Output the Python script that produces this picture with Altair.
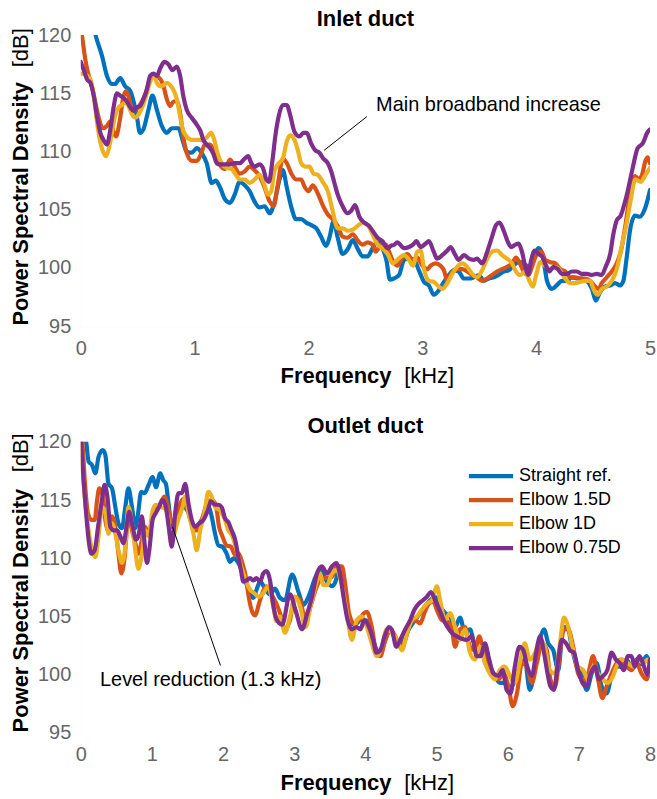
import altair as alt
import pandas as pd

# ---------------------------------------------------------------------------
# Series names and MATLAB-style line colours
# ---------------------------------------------------------------------------
series_names = ["Straight ref.", "Elbow 1.5D", "Elbow 1D", "Elbow 0.75D"]
series_colors = ["#0072BD", "#D95319", "#EDB120", "#7E2F8E"]

panel_titles = ["Inlet duct", "Outlet duct"]
x_label = ["Frequency", "[kHz]"]
y_label = ["Power Spectral Density", "[dB]"]
x_ticks_inlet = [0, 1, 2, 3, 4, 5]
x_ticks_outlet = [0, 1, 2, 3, 4, 5, 6, 7, 8]
y_ticks = [95, 100, 105, 110, 115, 120]

# ---------------------------------------------------------------------------
# Inlet duct spectra (frequency in kHz, PSD in dB)
# ---------------------------------------------------------------------------
inlet_f_straight = [0.0, 0.05, 0.10, 0.13, 0.187, 0.23, 0.274, 0.30, 0.347, 0.39, 0.435, 0.464, 0.493, 0.52, 0.55, 0.595, 0.63, 0.668, 0.712, 0.756, 0.80, 0.858, 0.90, 0.93, 0.975, 1.02, 1.06, 1.106, 1.15, 1.185, 1.22, 1.267, 1.31, 1.352, 1.396, 1.44, 1.483, 1.527, 1.57, 1.615, 1.66, 1.70, 1.746, 1.775, 1.81, 1.85, 1.89, 1.936, 1.98, 2.02, 2.07, 2.11, 2.155, 2.184, 2.22, 2.257, 2.30, 2.344, 2.39, 2.43, 2.476, 2.52, 2.563, 2.607, 2.65, 2.686, 2.715, 2.75, 2.796, 2.84, 2.883, 2.927, 2.97, 3.015, 3.058, 3.10, 3.146, 3.19, 3.233, 3.277, 3.32, 3.365, 3.41, 3.452, 3.496, 3.54, 3.584, 3.628, 3.67, 3.715, 3.759, 3.80, 3.846, 3.89, 3.934, 3.978, 4.02, 4.057, 4.095, 4.138, 4.18, 4.226, 4.27, 4.313, 4.357, 4.40, 4.445, 4.49, 4.524, 4.56, 4.605, 4.65, 4.693, 4.737, 4.766, 4.795, 4.824, 4.868, 4.91, 4.956, 5.0]
inlet_db_straight = [124.5, 123.0, 121.3, 120.0, 118.2, 116.5, 115.8, 115.8, 116.3, 115.6, 115.2, 114.3, 113.0, 111.6, 111.9, 113.6, 114.8, 113.6, 112.2, 111.6, 112.0, 112.0, 110.8, 110.0, 109.9, 110.3, 109.9, 109.0, 107.3, 107.5, 107.0, 105.9, 105.6, 106.3, 107.4, 107.1, 106.6, 105.7, 105.2, 105.3, 104.7, 105.6, 107.6, 108.4, 106.9, 105.2, 104.2, 104.2, 103.9, 103.7, 103.4, 102.7, 101.9, 102.6, 104.0, 102.6, 101.2, 101.6, 102.4, 101.7, 101.0, 101.0, 101.7, 102.2, 101.7, 100.6, 99.0, 99.1, 99.4, 100.7, 100.8, 100.7, 99.8, 98.8, 98.5, 97.7, 98.1, 98.8, 99.4, 99.8, 99.7, 99.1, 99.1, 99.2, 99.4, 98.9, 99.1, 99.2, 99.4, 99.7, 99.8, 100.2, 100.5, 100.4, 100.1, 100.9, 101.7, 101.1, 98.9, 98.2, 98.5, 98.9, 98.9, 99.2, 99.1, 99.1, 98.9, 98.2, 97.2, 97.9, 98.4, 98.5, 98.7, 98.5, 98.9, 100.9, 103.2, 104.5, 104.4, 105.1, 106.7]

inlet_f_elbow15 = [0.0, 0.01, 0.04, 0.07, 0.10, 0.128, 0.158, 0.193, 0.23, 0.26, 0.29, 0.31, 0.34, 0.377, 0.40, 0.426, 0.455, 0.485, 0.52, 0.566, 0.61, 0.654, 0.70, 0.727, 0.756, 0.785, 0.814, 0.844, 0.873, 0.90, 0.93, 0.975, 1.02, 1.057, 1.09, 1.135, 1.18, 1.22, 1.267, 1.31, 1.352, 1.396, 1.44, 1.483, 1.527, 1.57, 1.615, 1.66, 1.694, 1.73, 1.775, 1.81, 1.85, 1.89, 1.936, 1.965, 2.0, 2.038, 2.082, 2.125, 2.17, 2.213, 2.257, 2.30, 2.344, 2.39, 2.43, 2.476, 2.52, 2.563, 2.59, 2.636, 2.68, 2.708, 2.737, 2.78, 2.825, 2.87, 2.912, 2.956, 3.0, 3.044, 3.073, 3.117, 3.16, 3.19, 3.22, 3.263, 3.306, 3.35, 3.394, 3.438, 3.48, 3.525, 3.57, 3.613, 3.657, 3.70, 3.744, 3.788, 3.823, 3.852, 3.89, 3.934, 3.963, 4.007, 4.045, 4.08, 4.124, 4.168, 4.21, 4.255, 4.3, 4.343, 4.386, 4.43, 4.474, 4.518, 4.547, 4.576, 4.62, 4.664, 4.708, 4.75, 4.786, 4.815, 4.845, 4.87, 4.90, 4.93, 4.96, 4.98, 5.0]
inlet_db_elbow15 = [120.6, 120.0, 117.9, 116.5, 115.5, 114.2, 112.9, 112.0, 112.2, 112.6, 111.6, 111.3, 112.5, 114.8, 115.2, 114.5, 113.5, 113.6, 114.0, 114.9, 116.2, 116.5, 116.2, 115.6, 114.5, 113.9, 114.3, 114.3, 113.3, 111.3, 109.9, 109.2, 109.2, 109.8, 110.6, 110.6, 109.8, 108.9, 108.5, 109.3, 108.7, 108.1, 108.3, 108.7, 108.4, 107.9, 106.9, 105.7, 105.3, 107.1, 109.4, 109.0, 108.1, 107.6, 107.6, 107.0, 106.6, 107.1, 106.4, 105.4, 104.6, 104.2, 103.6, 102.7, 102.6, 102.9, 102.4, 102.0, 102.2, 102.0, 101.4, 102.0, 102.0, 101.4, 100.7, 100.2, 100.9, 101.2, 100.7, 100.9, 100.2, 99.9, 100.2, 100.4, 100.2, 99.8, 98.9, 99.7, 99.9, 99.9, 99.7, 99.4, 99.2, 98.9, 99.1, 99.4, 99.7, 99.9, 100.1, 100.4, 100.9, 100.5, 99.7, 99.4, 100.1, 101.2, 101.4, 100.7, 100.5, 100.4, 99.9, 99.7, 99.2, 99.2, 99.1, 99.1, 98.9, 98.4, 98.2, 98.7, 99.2, 99.7, 100.4, 101.7, 103.8, 105.8, 107.5, 107.9, 107.6, 108.0, 109.2, 109.5, 109.0]

inlet_f_elbow1 = [0.0, 0.04, 0.085, 0.114, 0.143, 0.172, 0.20, 0.222, 0.245, 0.274, 0.30, 0.333, 0.362, 0.39, 0.42, 0.45, 0.48, 0.508, 0.543, 0.58, 0.61, 0.64, 0.668, 0.70, 0.727, 0.756, 0.785, 0.814, 0.844, 0.873, 0.90, 0.93, 0.975, 1.02, 1.06, 1.106, 1.144, 1.173, 1.2, 1.238, 1.28, 1.325, 1.37, 1.396, 1.44, 1.483, 1.527, 1.57, 1.615, 1.644, 1.673, 1.70, 1.74, 1.775, 1.81, 1.84, 1.877, 1.907, 1.936, 1.974, 2.01, 2.044, 2.082, 2.125, 2.17, 2.213, 2.257, 2.30, 2.344, 2.39, 2.43, 2.476, 2.52, 2.563, 2.607, 2.65, 2.695, 2.74, 2.78, 2.84, 2.883, 2.918, 2.956, 2.985, 3.015, 3.058, 3.10, 3.146, 3.175, 3.22, 3.263, 3.306, 3.35, 3.394, 3.438, 3.48, 3.525, 3.57, 3.613, 3.657, 3.70, 3.744, 3.788, 3.823, 3.86, 3.905, 3.94, 3.97, 4.0, 4.036, 4.08, 4.124, 4.168, 4.21, 4.255, 4.3, 4.343, 4.386, 4.43, 4.474, 4.503, 4.538, 4.576, 4.62, 4.664, 4.708, 4.75, 4.79, 4.83, 4.87, 4.92, 4.96, 5.0]
inlet_db_elbow1 = [116.7, 116.6, 116.2, 114.8, 112.5, 110.8, 109.9, 109.6, 110.2, 111.6, 113.0, 113.8, 114.0, 114.2, 113.9, 113.2, 112.9, 113.2, 113.9, 115.0, 116.0, 116.6, 115.9, 115.6, 115.7, 115.9, 115.7, 115.3, 114.5, 113.0, 111.8, 111.3, 111.0, 111.0, 111.0, 111.2, 111.6, 111.0, 109.9, 109.0, 108.6, 108.5, 107.9, 107.6, 107.6, 107.3, 107.6, 108.0, 107.1, 106.3, 106.6, 108.3, 109.0, 109.4, 110.9, 111.4, 111.0, 110.1, 109.0, 108.7, 108.7, 108.1, 108.0, 107.4, 106.6, 104.9, 103.4, 103.4, 103.2, 103.3, 103.6, 103.9, 103.7, 102.9, 102.0, 101.7, 101.2, 100.4, 100.7, 101.1, 100.7, 100.2, 101.4, 101.5, 99.9, 98.9, 98.8, 98.4, 98.2, 98.7, 99.5, 100.1, 100.4, 100.1, 99.5, 99.2, 99.8, 100.8, 101.4, 101.5, 101.1, 100.8, 100.4, 99.7, 99.4, 99.7, 98.9, 98.4, 99.4, 100.5, 100.2, 99.9, 100.1, 99.8, 99.1, 98.7, 98.7, 98.8, 98.9, 98.9, 98.2, 97.7, 98.2, 98.4, 98.9, 99.9, 101.8, 103.6, 105.8, 107.6, 107.4, 108.0, 108.6]

inlet_f_elbow075 = [0.0, 0.026, 0.055, 0.085, 0.114, 0.143, 0.172, 0.20, 0.23, 0.26, 0.29, 0.318, 0.347, 0.377, 0.405, 0.435, 0.464, 0.493, 0.52, 0.55, 0.58, 0.61, 0.64, 0.668, 0.70, 0.736, 0.77, 0.806, 0.844, 0.873, 0.90, 0.93, 0.975, 1.02, 1.05, 1.077, 1.106, 1.135, 1.165, 1.194, 1.223, 1.267, 1.31, 1.352, 1.396, 1.44, 1.47, 1.498, 1.527, 1.57, 1.6, 1.63, 1.653, 1.682, 1.71, 1.74, 1.775, 1.81, 1.84, 1.877, 1.92, 1.956, 1.985, 2.023, 2.06, 2.096, 2.13, 2.17, 2.2, 2.228, 2.257, 2.30, 2.344, 2.374, 2.41, 2.447, 2.49, 2.534, 2.563, 2.607, 2.65, 2.695, 2.724, 2.753, 2.78, 2.84, 2.883, 2.918, 2.947, 2.985, 3.03, 3.058, 3.10, 3.13, 3.175, 3.22, 3.248, 3.29, 3.32, 3.365, 3.41, 3.452, 3.48, 3.525, 3.57, 3.613, 3.648, 3.678, 3.715, 3.753, 3.78, 3.817, 3.846, 3.875, 3.905, 3.928, 3.957, 3.987, 4.02, 4.057, 4.086, 4.115, 4.153, 4.19, 4.226, 4.27, 4.313, 4.357, 4.40, 4.445, 4.49, 4.532, 4.576, 4.61, 4.65, 4.678, 4.708, 4.743, 4.775, 4.804, 4.848, 4.892, 4.936, 4.98, 5.0]
inlet_db_elbow075 = [117.7, 117.0, 116.2, 115.9, 114.8, 113.0, 111.6, 111.0, 110.6, 111.9, 113.9, 115.0, 114.8, 114.6, 114.3, 113.8, 113.5, 113.8, 113.9, 114.5, 115.3, 116.5, 116.7, 116.5, 117.2, 117.7, 117.5, 117.0, 117.3, 116.5, 114.8, 113.6, 112.9, 112.3, 111.8, 111.0, 110.6, 110.3, 109.8, 109.0, 108.9, 108.9, 108.9, 109.0, 109.0, 109.4, 109.6, 109.0, 108.7, 108.9, 108.6, 107.6, 107.4, 109.1, 111.4, 113.1, 114.0, 114.0, 113.1, 111.7, 111.3, 111.6, 111.6, 110.7, 110.1, 109.9, 109.4, 109.0, 108.3, 107.3, 106.3, 105.3, 104.7, 104.9, 105.4, 104.4, 103.9, 103.6, 103.2, 102.6, 102.3, 101.7, 101.9, 102.0, 102.2, 101.7, 101.8, 102.0, 102.3, 101.8, 102.1, 102.3, 101.4, 100.8, 101.1, 101.5, 101.8, 101.1, 100.7, 101.1, 100.8, 100.7, 100.8, 100.4, 101.4, 102.7, 103.7, 103.9, 103.2, 102.2, 101.8, 102.0, 102.1, 101.4, 100.1, 99.4, 100.7, 101.5, 101.2, 100.9, 100.2, 99.7, 100.1, 99.9, 99.5, 99.5, 99.7, 99.7, 99.5, 99.5, 99.4, 99.5, 99.4, 100.1, 101.2, 102.9, 104.1, 104.5, 105.5, 106.6, 108.6, 110.3, 110.7, 111.7, 111.9]

# ---------------------------------------------------------------------------
# Outlet duct spectra (frequency in kHz, PSD in dB)
# ---------------------------------------------------------------------------
outlet_f_straight = [0.0, 0.05, 0.075, 0.11, 0.16, 0.205, 0.25, 0.31, 0.345, 0.39, 0.44, 0.486, 0.53, 0.58, 0.626, 0.67, 0.72, 0.766, 0.80, 0.85, 0.897, 0.953, 1.01, 1.056, 1.117, 1.16, 1.196, 1.234, 1.28, 1.327, 1.374, 1.42, 1.467, 1.514, 1.56, 1.607, 1.678, 1.738, 1.794, 1.84, 1.888, 1.935, 1.99, 2.05, 2.098, 2.145, 2.215, 2.26, 2.31, 2.38, 2.425, 2.47, 2.52, 2.59, 2.66, 2.73, 2.80, 2.87, 2.97, 3.06, 3.13, 3.2, 3.3, 3.36, 3.46, 3.53, 3.58, 3.627, 3.673, 3.72, 3.79, 3.86, 3.93, 4.0, 4.07, 4.14, 4.21, 4.28, 4.35, 4.42, 4.49, 4.56, 4.63, 4.70, 4.77, 4.84, 4.91, 4.98, 5.05, 5.12, 5.19, 5.26, 5.33, 5.40, 5.47, 5.54, 5.61, 5.68, 5.75, 5.82, 5.89, 5.96, 6.03, 6.10, 6.17, 6.24, 6.31, 6.385, 6.45, 6.51, 6.57, 6.64, 6.71, 6.78, 6.84, 6.90, 6.97, 7.04, 7.11, 7.18, 7.25, 7.32, 7.39, 7.46, 7.53, 7.6, 7.67, 7.74, 7.81, 7.88, 7.95, 8.0]
outlet_db_straight = [121.5, 120.3, 120.0, 118.3, 118.0, 117.3, 118.7, 119.3, 118.9, 116.4, 116.0, 114.4, 113.0, 112.6, 114.4, 116.0, 114.4, 112.6, 113.6, 115.7, 115.6, 116.3, 117.0, 116.1, 117.3, 116.7, 116.4, 114.7, 112.7, 113.3, 114.1, 114.9, 114.4, 113.9, 113.0, 112.4, 113.1, 113.7, 114.4, 113.6, 112.1, 111.1, 111.0, 110.4, 109.7, 110.0, 109.6, 109.0, 108.1, 107.0, 106.6, 107.3, 108.0, 107.4, 106.9, 107.4, 106.6, 106.4, 108.6, 107.1, 106.0, 106.7, 108.4, 109.0, 108.0, 107.6, 108.0, 109.0, 108.1, 106.4, 104.4, 104.3, 104.7, 104.7, 103.9, 102.4, 101.9, 103.0, 103.9, 103.0, 102.4, 103.3, 104.1, 104.7, 105.3, 105.9, 106.4, 106.7, 105.9, 105.3, 105.0, 104.1, 104.9, 103.6, 103.9, 102.4, 101.9, 102.4, 100.7, 99.9, 99.3, 99.3, 98.7, 99.6, 100.7, 101.3, 98.7, 100.7, 103.0, 103.9, 102.7, 102.1, 100.4, 104.1, 104.1, 102.4, 100.7, 100.1, 98.7, 100.1, 101.0, 99.0, 98.4, 99.9, 100.7, 100.7, 101.3, 100.7, 101.3, 100.9, 101.6, 101.0]

outlet_f_elbow15 = [0.0, 0.02, 0.056, 0.10, 0.15, 0.196, 0.23, 0.26, 0.31, 0.345, 0.39, 0.44, 0.486, 0.53, 0.57, 0.617, 0.67, 0.72, 0.766, 0.81, 0.86, 0.906, 0.953, 1.01, 1.056, 1.117, 1.178, 1.224, 1.28, 1.336, 1.383, 1.444, 1.49, 1.537, 1.584, 1.645, 1.70, 1.77, 1.84, 1.897, 1.944, 1.99, 2.05, 2.11, 2.17, 2.22, 2.27, 2.32, 2.36, 2.41, 2.45, 2.505, 2.55, 2.61, 2.68, 2.75, 2.80, 2.87, 2.94, 3.01, 3.08, 3.16, 3.23, 3.30, 3.36, 3.43, 3.53, 3.60, 3.67, 3.72, 3.77, 3.84, 3.91, 3.98, 4.02, 4.09, 4.155, 4.21, 4.28, 4.35, 4.42, 4.49, 4.56, 4.63, 4.70, 4.77, 4.83, 4.89, 4.95, 5.015, 5.075, 5.145, 5.215, 5.26, 5.33, 5.40, 5.47, 5.54, 5.60, 5.66, 5.73, 5.80, 5.87, 5.94, 6.01, 6.07, 6.13, 6.20, 6.27, 6.34, 6.41, 6.48, 6.55, 6.60, 6.665, 6.735, 6.79, 6.85, 6.92, 6.99, 7.06, 7.13, 7.2, 7.27, 7.33, 7.39, 7.46, 7.53, 7.6, 7.67, 7.74, 7.81, 7.88, 7.95, 8.0]
outlet_db_elbow15 = [120.2, 120.0, 116.7, 113.9, 113.3, 113.3, 115.0, 116.0, 115.4, 113.3, 112.3, 113.6, 112.7, 110.4, 108.7, 110.1, 113.6, 112.4, 111.3, 110.4, 111.6, 112.7, 111.9, 113.6, 114.1, 114.7, 115.3, 114.4, 113.1, 113.4, 114.4, 115.1, 114.9, 113.4, 112.7, 112.4, 113.3, 114.6, 115.0, 114.6, 112.7, 111.9, 111.1, 111.0, 110.3, 110.4, 109.6, 108.4, 106.7, 105.4, 105.1, 106.1, 107.0, 107.6, 106.9, 106.1, 105.3, 103.9, 104.7, 106.7, 106.4, 104.7, 105.9, 107.3, 108.1, 108.3, 108.4, 109.3, 109.3, 107.6, 105.3, 104.4, 104.7, 105.3, 105.4, 104.1, 101.9, 101.6, 103.0, 103.9, 103.3, 102.4, 103.0, 104.4, 104.7, 104.4, 105.3, 106.1, 106.3, 105.4, 104.7, 104.6, 103.9, 102.4, 103.9, 104.1, 102.4, 102.1, 103.3, 101.9, 101.0, 100.1, 99.6, 100.1, 99.0, 97.3, 98.4, 101.0, 100.7, 99.3, 101.0, 102.7, 102.1, 99.6, 99.0, 101.9, 103.9, 103.9, 102.4, 100.1, 99.6, 100.1, 101.6, 99.6, 98.0, 99.0, 100.1, 101.0, 101.3, 100.7, 100.4, 101.0, 100.1, 99.6, 100.7]

outlet_f_elbow1 = [0.0, 0.02, 0.065, 0.11, 0.16, 0.205, 0.25, 0.30, 0.345, 0.39, 0.44, 0.486, 0.53, 0.58, 0.626, 0.67, 0.72, 0.766, 0.81, 0.86, 0.906, 0.953, 1.01, 1.056, 1.117, 1.178, 1.224, 1.27, 1.327, 1.374, 1.43, 1.467, 1.514, 1.584, 1.63, 1.678, 1.738, 1.794, 1.84, 1.888, 1.958, 2.02, 2.075, 2.13, 2.19, 2.24, 2.285, 2.33, 2.38, 2.44, 2.495, 2.565, 2.635, 2.705, 2.75, 2.80, 2.87, 2.94, 3.01, 3.08, 3.16, 3.23, 3.30, 3.36, 3.41, 3.46, 3.53, 3.60, 3.67, 3.74, 3.81, 3.88, 3.95, 4.02, 4.09, 4.16, 4.23, 4.30, 4.375, 4.445, 4.515, 4.585, 4.655, 4.725, 4.795, 4.865, 4.935, 5.005, 5.05, 5.12, 5.19, 5.26, 5.33, 5.40, 5.47, 5.54, 5.61, 5.68, 5.75, 5.82, 5.89, 5.96, 6.03, 6.10, 6.17, 6.24, 6.31, 6.385, 6.45, 6.52, 6.59, 6.665, 6.735, 6.79, 6.85, 6.92, 6.99, 7.06, 7.13, 7.2, 7.27, 7.34, 7.41, 7.48, 7.55, 7.62, 7.69, 7.76, 7.83, 7.90, 7.97, 8.0]
outlet_db_elbow1 = [120.0, 118.1, 114.7, 112.4, 110.7, 110.1, 111.9, 114.4, 113.9, 112.1, 113.0, 112.1, 110.7, 109.6, 111.0, 114.4, 113.0, 110.7, 109.1, 110.4, 112.4, 111.9, 114.1, 114.6, 114.4, 114.3, 113.6, 111.3, 112.4, 113.4, 114.4, 115.3, 113.9, 112.1, 110.7, 112.4, 113.9, 115.7, 115.3, 114.4, 114.1, 113.4, 112.4, 111.9, 110.7, 109.6, 108.7, 107.9, 107.3, 107.0, 106.7, 107.0, 107.6, 105.9, 104.6, 105.0, 103.6, 105.0, 106.7, 105.9, 104.1, 105.9, 107.6, 108.7, 107.7, 107.7, 108.7, 109.0, 107.6, 105.3, 103.0, 104.7, 105.0, 104.1, 102.7, 101.6, 102.4, 103.9, 103.6, 103.0, 102.1, 103.6, 104.7, 105.0, 105.6, 106.1, 106.4, 107.6, 106.4, 104.7, 105.3, 104.1, 103.0, 103.9, 101.9, 101.3, 102.4, 101.0, 100.1, 99.6, 100.4, 100.7, 99.9, 99.3, 101.0, 102.7, 101.3, 101.9, 103.0, 102.4, 100.4, 100.1, 102.7, 104.9, 104.1, 102.1, 100.7, 100.4, 99.6, 100.7, 100.1, 99.6, 99.3, 99.9, 101.0, 101.3, 101.0, 100.7, 101.3, 101.0, 101.3, 100.1]

outlet_f_elbow075 = [0.0, 0.04, 0.075, 0.11, 0.15, 0.196, 0.243, 0.29, 0.336, 0.374, 0.416, 0.463, 0.51, 0.556, 0.60, 0.65, 0.68, 0.73, 0.776, 0.81, 0.86, 0.897, 0.93, 0.963, 1.01, 1.056, 1.10, 1.15, 1.196, 1.243, 1.28, 1.327, 1.374, 1.42, 1.467, 1.514, 1.56, 1.607, 1.664, 1.724, 1.785, 1.83, 1.888, 1.935, 1.98, 2.03, 2.075, 2.12, 2.17, 2.215, 2.25, 2.285, 2.33, 2.38, 2.425, 2.47, 2.52, 2.565, 2.61, 2.66, 2.705, 2.75, 2.83, 2.94, 3.02, 3.11, 3.18, 3.25, 3.32, 3.39, 3.46, 3.53, 3.59, 3.65, 3.70, 3.75, 3.81, 3.875, 3.93, 3.985, 4.05, 4.11, 4.155, 4.21, 4.27, 4.33, 4.37, 4.435, 4.49, 4.56, 4.63, 4.69, 4.75, 4.81, 4.865, 4.92, 4.98, 5.04, 5.10, 5.155, 5.215, 5.285, 5.355, 5.425, 5.495, 5.565, 5.62, 5.68, 5.74, 5.80, 5.87, 5.93, 5.985, 6.04, 6.10, 6.165, 6.22, 6.275, 6.34, 6.40, 6.455, 6.51, 6.56, 6.60, 6.65, 6.71, 6.76, 6.82, 6.875, 6.93, 6.99, 7.05, 7.11, 7.165, 7.225, 7.285, 7.34, 7.40, 7.46, 7.52, 7.575, 7.63, 7.69, 7.74, 7.785, 7.85, 7.90, 7.96, 8.0]
outlet_db_elbow075 = [120.5, 116.7, 113.9, 111.6, 110.4, 110.7, 112.7, 114.7, 116.3, 115.3, 112.7, 112.4, 112.4, 111.9, 111.3, 113.0, 114.0, 112.7, 111.6, 111.9, 113.6, 111.3, 109.6, 110.7, 113.3, 113.9, 114.4, 115.0, 114.4, 112.4, 111.0, 113.9, 115.6, 115.6, 116.4, 114.7, 113.3, 112.7, 113.0, 113.3, 114.1, 114.9, 114.6, 114.6, 114.4, 113.4, 113.1, 112.4, 111.6, 110.1, 109.0, 108.0, 108.1, 108.3, 108.1, 108.3, 108.0, 108.7, 108.9, 108.1, 106.0, 104.8, 104.3, 106.9, 105.5, 103.9, 105.2, 106.7, 108.7, 109.3, 108.7, 109.3, 109.6, 108.4, 106.4, 104.7, 103.9, 104.1, 103.9, 104.7, 104.1, 103.0, 101.9, 102.1, 103.3, 104.1, 103.9, 102.4, 103.0, 103.9, 104.7, 105.6, 106.1, 106.4, 106.7, 107.1, 106.4, 105.6, 104.7, 104.1, 103.6, 103.3, 103.1, 103.0, 103.3, 101.6, 101.6, 102.7, 101.3, 100.1, 99.9, 100.4, 98.7, 98.4, 100.7, 102.4, 102.1, 100.7, 99.9, 101.9, 103.3, 101.9, 100.1, 99.0, 98.7, 101.3, 103.0, 102.7, 102.1, 101.9, 100.4, 99.3, 99.0, 100.1, 100.7, 99.6, 99.9, 100.4, 101.9, 101.3, 101.0, 100.4, 101.6, 101.6, 100.7, 101.6, 101.0, 100.0, 101.3]

# ---------------------------------------------------------------------------
# Annotations: label text, label anchor (kHz, dB) and pointer line (kHz, dB)
# ---------------------------------------------------------------------------
inlet_note = "Main broadband increase"
inlet_note_anchor = [2.594, 113.5]
inlet_note_line = [2.137, 110.1, 2.513, 113.0]

outlet_note = "Level reduction (1.3 kHz)"
outlet_note_anchor = [0.27, 99.06]
outlet_note_line = [1.29, 112.7, 1.963, 100.8]

# ---------------------------------------------------------------------------
# Layout constants (pixels)
# ---------------------------------------------------------------------------
W, H = 571, 292
FONT = "Liberation Sans"
BG = "#e5e5e5"
LABEL_GRAY = "#666666"
LINE_W = 4.2

color_scale = alt.Scale(domain=series_names, range=series_colors)


def spectra_layers(freqs, dbs, x_max, ticks):
    layers = []
    for name, f, db in zip(series_names, freqs, dbs):
        df = pd.DataFrame({"freq": f, "psd": db, "series": name})
        layers.append(
            alt.Chart(df)
            .mark_line(strokeWidth=LINE_W, clip=True, interpolate="monotone",
                       strokeJoin="round", strokeCap="round")
            .encode(
                x=alt.X("freq:Q",
                        scale=alt.Scale(domain=[0, x_max], nice=False, zero=False),
                        axis=alt.Axis(values=ticks, format="d", title=None,
                                      grid=True, gridColor="white", gridWidth=2,
                                      domain=False, ticks=False,
                                      labelFontSize=20, labelColor=LABEL_GRAY,
                                      labelFont=FONT, labelPadding=12,
                                      labelFlush=False, labelOverlap=False)),
                y=alt.Y("psd:Q",
                        scale=alt.Scale(domain=[95, 120], nice=False, zero=False),
                        axis=alt.Axis(values=y_ticks, title=None,
                                      grid=True, gridColor="white", gridWidth=2,
                                      domain=False, ticks=False,
                                      labelFontSize=20, labelColor=LABEL_GRAY,
                                      labelFont=FONT, labelPadding=10,
                                      labelOverlap=False)),
                color=alt.Color("series:N", scale=color_scale, legend=None),
            )
        )
    return layers


def text_at(label, x, y, size, weight="normal", align="center",
            baseline="alphabetic", angle=0):
    return (
        alt.Chart(pd.DataFrame({"label": [label]}))
        .mark_text(fontSize=size, fontWeight=weight, font=FONT, align=align,
                   baseline=baseline, angle=angle, color="black")
        .encode(x=alt.value(x), y=alt.value(y), text="label:N")
    )


def frame_labels(title, unit_offset_y):
    return [
        text_at(title, W / 2, -9.3, 22, weight="bold"),
        text_at(x_label[0], 256, 349, 22, weight="bold"),
        text_at(x_label[1], 349.5, 349, 22),
        text_at(y_label[0], -53.3, 169.2, 22, weight="bold", angle=270),
        text_at(y_label[1], -53.3, unit_offset_y, 22, angle=270),
    ]


def note_layers(text, anchor, line):
    line_df = pd.DataFrame({"f1": [line[0]], "d1": [line[1]],
                            "f2": [line[2]], "d2": [line[3]]})
    rule = alt.Chart(line_df).mark_rule(color="black", strokeWidth=1).encode(
        x="f1:Q", y="d1:Q", x2="f2:Q", y2="d2:Q")
    label_df = pd.DataFrame({"f": [anchor[0]], "d": [anchor[1]], "label": [text]})
    label = alt.Chart(label_df).mark_text(
        fontSize=20, font=FONT, align="left", baseline="alphabetic", color="black"
    ).encode(x="f:Q", y="d:Q", text="label:N")
    return [rule, label]


def legend_layers():
    layers = []
    row_y0, row_step = 34.3, 24.1
    for i, (name, color) in enumerate(zip(series_names, series_colors)):
        yy = row_y0 + i * row_step
        row = pd.DataFrame({"label": [name]})
        layers.append(
            alt.Chart(row).mark_rule(color=color, strokeWidth=LINE_W).encode(
                x=alt.value(389.3), x2=alt.value(433.7), y=alt.value(yy))
        )
        layers.append(
            alt.Chart(row).mark_text(fontSize=18, font=FONT, align="left",
                                     baseline="middle", color="black").encode(
                x=alt.value(439.7), y=alt.value(yy), text="label:N")
        )
    return layers


inlet = alt.layer(
    *spectra_layers(
        [inlet_f_straight, inlet_f_elbow15, inlet_f_elbow1, inlet_f_elbow075],
        [inlet_db_straight, inlet_db_elbow15, inlet_db_elbow1, inlet_db_elbow075],
        5, x_ticks_inlet),
    *note_layers(inlet_note, inlet_note_anchor, inlet_note_line),
    *frame_labels(panel_titles[0], 12.7),
).properties(width=W, height=H)

outlet = alt.layer(
    *spectra_layers(
        [outlet_f_straight, outlet_f_elbow15, outlet_f_elbow1, outlet_f_elbow075],
        [outlet_db_straight, outlet_db_elbow15, outlet_db_elbow1, outlet_db_elbow075],
        8, x_ticks_outlet),
    *note_layers(outlet_note, outlet_note_anchor, outlet_note_line),
    *legend_layers(),
    *frame_labels(panel_titles[1], 11.0),
).properties(width=W, height=H)

chart = (
    alt.vconcat(inlet, outlet, spacing=116, bounds="flush")
    .properties(padding={"left": 9, "top": 6, "right": 0, "bottom": 0})
    .configure_view(fill=BG, stroke=None)
    .configure(font=FONT)
)

chart.save("out.html", embed_options={"renderer": "svg", "actions": False})
